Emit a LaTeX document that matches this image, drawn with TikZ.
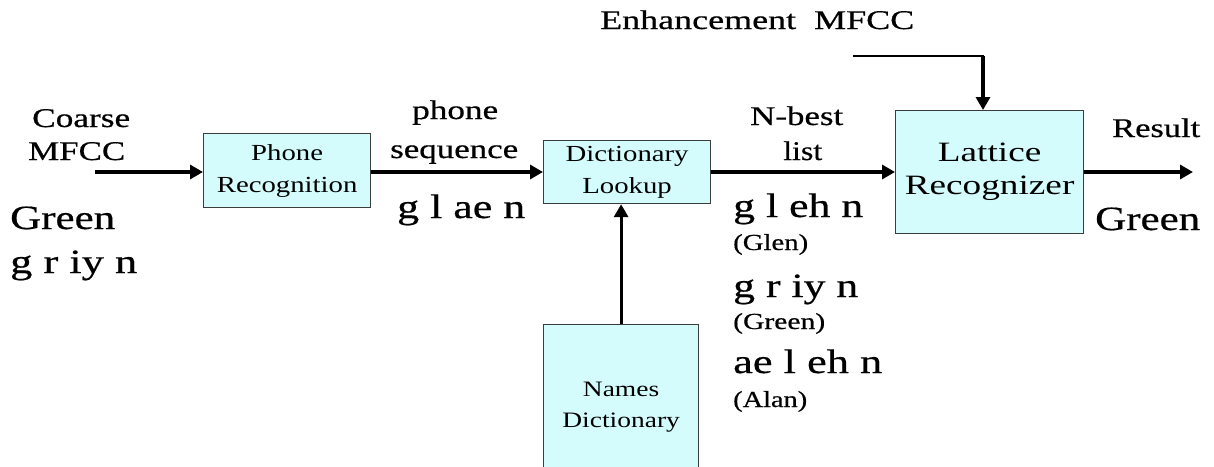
\documentclass[tikz,border=0pt]{standalone}
\usepackage{fontspec}
\setmainfont{Liberation Serif}
\newfontfamily\hvy[FakeBold=0.5]{Liberation Serif}
\usepackage{graphicx}
\usetikzlibrary{arrows.meta}
\newcommand\hs[1]{\scalebox{1.25}[1]{#1}}
\newcommand\hl[1]{\scalebox{1.33}[1]{#1}}
\newcommand\fw[2]{\resizebox{#1pt}{\height}{#2}}
\definecolor{boxfill}{RGB}{212,252,252}
\definecolor{boxline}{RGB}{60,60,60}
\begin{document}
\begin{tikzpicture}[x=1pt,y=-1pt,
 blk/.style={draw=boxline, line width=1.2pt, fill=boxfill, inner sep=0pt, align=center, anchor=north west, font=\fontsize{23}{32}\selectfont},
 big/.style={font=\hvy\fontsize{34}{40}\selectfont, inner sep=0pt, anchor=base west},
 mid/.style={font=\hvy\fontsize{27}{32}\selectfont, inner sep=0pt, anchor=base west},
 sml/.style={font=\hvy\fontsize{23}{26}\selectfont, inner sep=0pt, anchor=base west},
 flow/.style={line width=3.2pt, -{Triangle[length=13pt,width=14pt]}},
]
\useasboundingbox (0,0) rectangle (1214,466);

% blocks
\node[blk, minimum width=167pt, minimum height=74pt] (phone) at (203,133) {\hs{Phone}\\\hs{Recognition}};
\node[blk, minimum width=167pt, minimum height=63pt] (dict) at (543,140) {\hs{Dictionary}\\\hs{Lookup}};
\node[blk, minimum width=188pt, minimum height=123pt, font=\fontsize{28}{33}\selectfont] (lat) at (895,110) {\hl{Lattice}\\\hl{Recognizer}};
\node[blk, minimum width=155pt, minimum height=166pt, font=\fontsize{22}{31}\selectfont] (names) at (543,324) {\hs{Names}\\\hs{Dictionary}};

% coordinates
\coordinate (cin) at (95,172);
\coordinate (rout) at (1193,172);
\coordinate (enh) at (853,56);
\coordinate (ecorner) at (983,56);

% connectors
\draw[flow] (cin) -- (cin -| phone.west);
\draw[flow] (cin -| phone.east) -- (cin -| dict.west);
\draw[flow] (cin -| dict.east) -- (cin -| lat.west);
\draw[flow] (cin -| lat.east) -- (rout);
\draw[line width=2pt] (enh) -- ([xshift=1pt]ecorner);
\draw[flow] (ecorner) -- (ecorner |- lat.north);
\draw[flow] (names.north) -- (names.north |- dict.south);

% labels
\node[mid] (enhl) at (600,29) {\fw{314}{Enhancement\hspace{0.5em}MFCC}};
\node[mid] (coarse) at (32,127) {\fw{98}{Coarse}};
\node[mid] (mfcc) at (28,160) {\fw{97}{MFCC}};
\node[big] (green1) at (10,229) {\fw{105}{Green}};
\node[big] (griyn1) at (10,273) {\fw{127}{g r iy n}};
\node[mid] (phonel) at (412,119) {\fw{86}{phone}};
\node[mid] (seql) at (390,158) {\fw{128}{sequence}};
\node[big] (glaen) at (397,218) {\fw{128}{g l ae n}};
\node[mid] (nbest) at (750,125) {\fw{93}{N-best}};
\node[mid] (listl) at (783,160) {\fw{39}{list}};
\node[big] (glehn) at (733,217) {\fw{130}{g l eh n}};
\node[sml] (glen) at (733,250) {\fw{75}{(Glen)}};
\node[big] (griyn2) at (733,297) {\fw{125}{g r iy n}};
\node[sml] (green2) at (733,329) {\fw{92}{(Green)}};
\node[big] (aelehn) at (733,373) {\fw{149}{ae l eh n}};
\node[sml] (alan) at (733,407) {\fw{74}{(Alan)}};
\node[mid] (result) at (1112,137) {\fw{88}{Result}};
\node[big] (green3) at (1095,230) {\fw{105}{Green}};
\end{tikzpicture}
\end{document}
